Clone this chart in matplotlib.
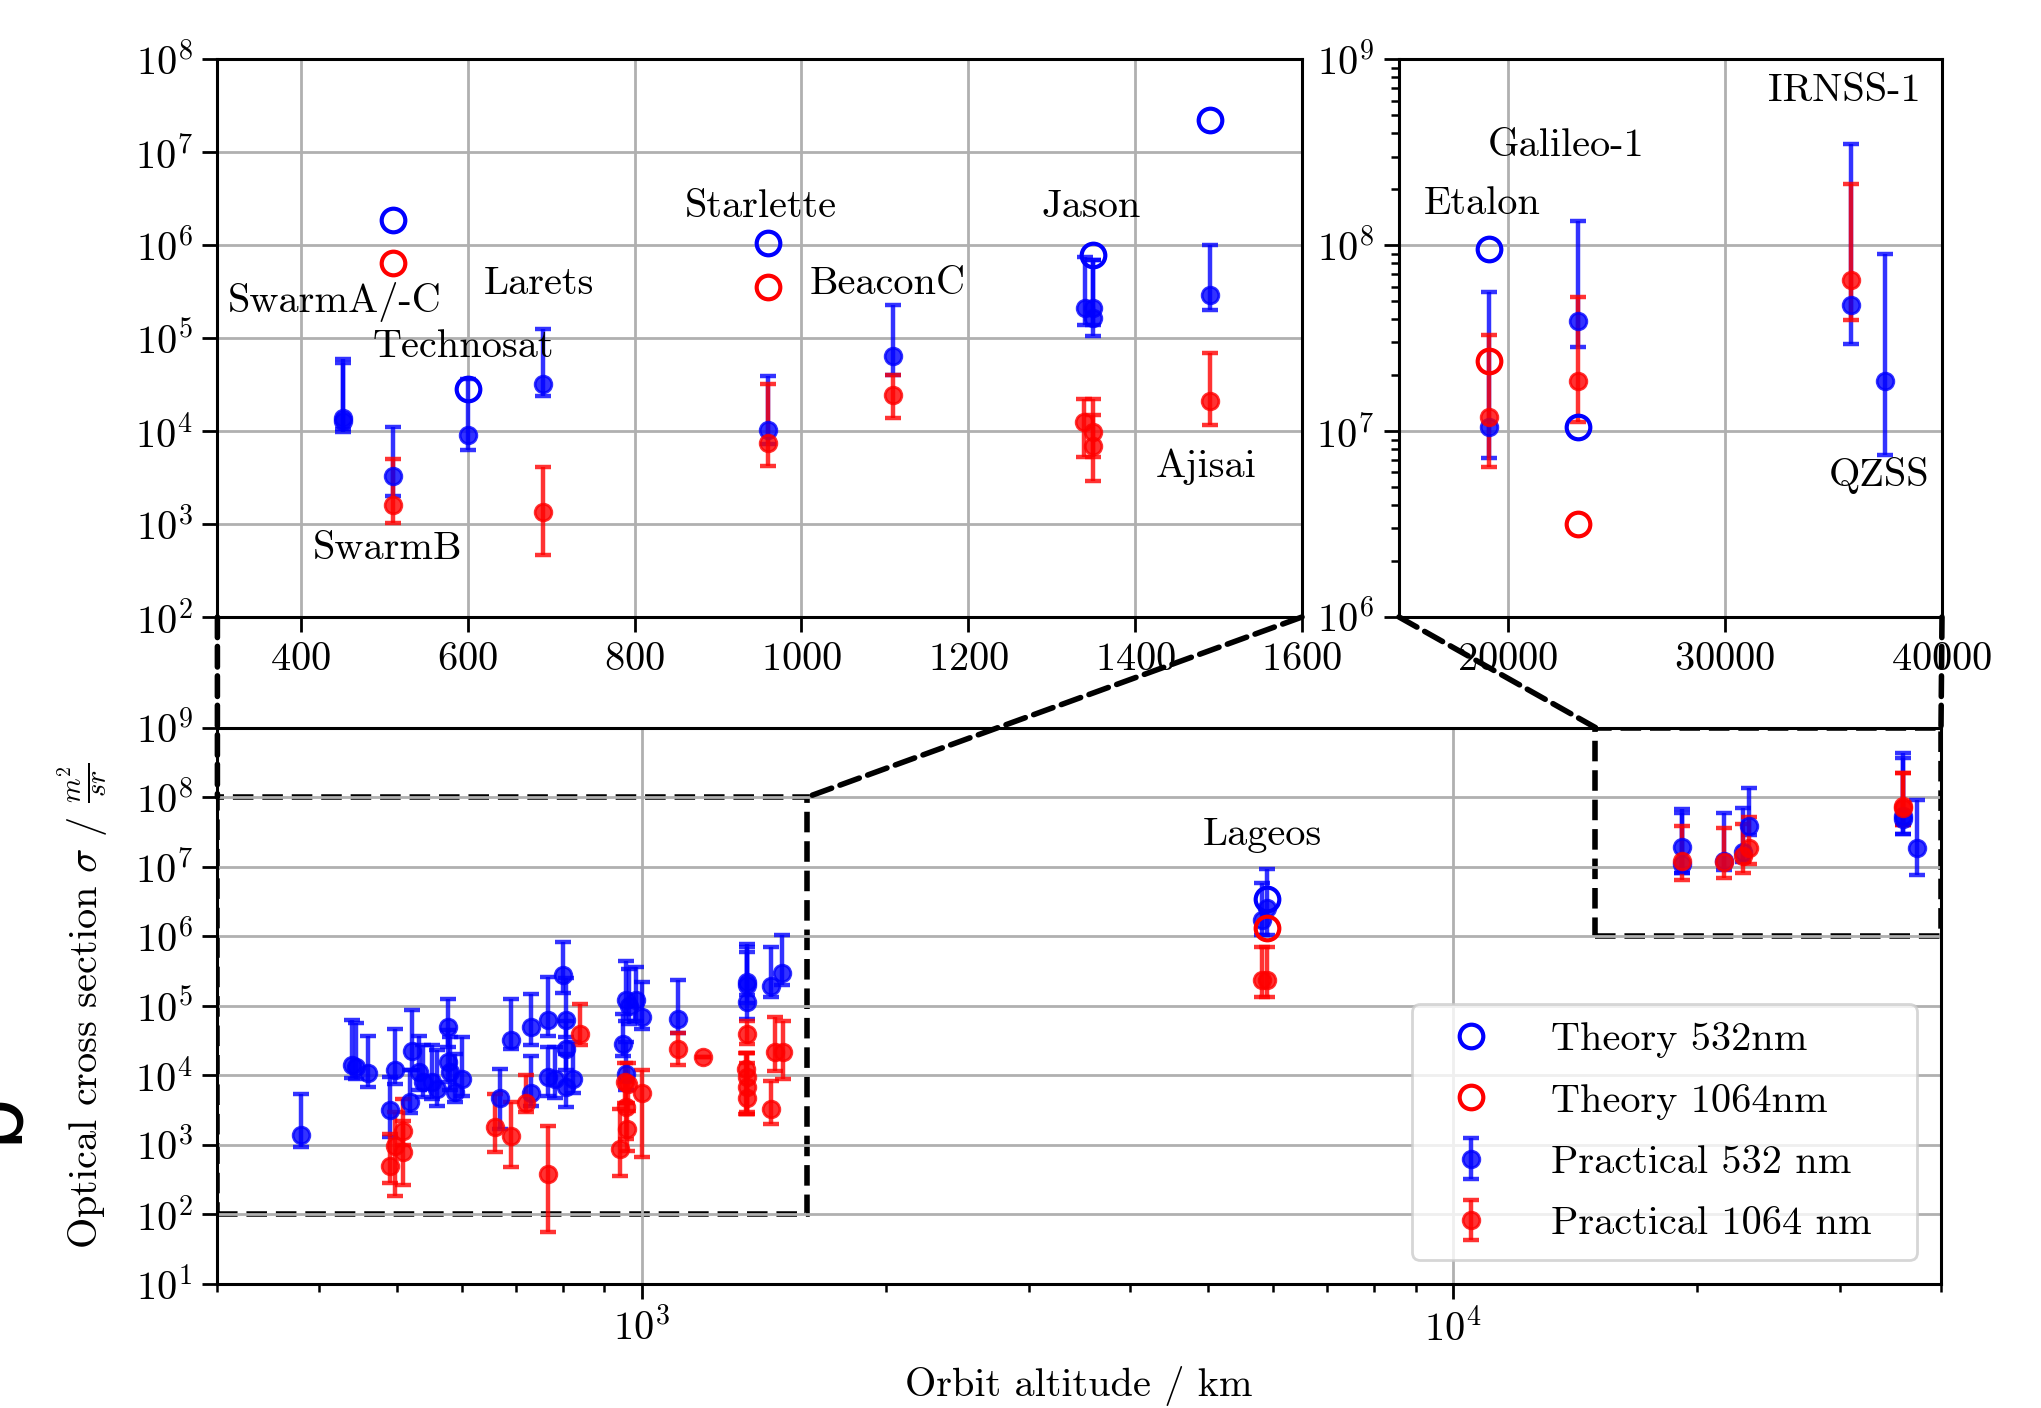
import numpy as np
import matplotlib
matplotlib.use('Agg')
import matplotlib.pyplot as plt
from matplotlib.patches import Rectangle, ConnectionPatch

plt.rcParams['font.family'] = 'serif'
plt.rcParams['font.serif'] = ['cmr10']
plt.rcParams['mathtext.fontset'] = 'cm'
plt.rcParams['axes.formatter.use_mathtext'] = True
plt.rcParams['font.size'] = 14.5

# ---------------- main plot data ----------------
main_p532_alt = [380, 439, 445, 460, 497, 490, 521, 518, 531, 538, 551, 559, 578, 578, 580, 589, 600,
                 669, 690, 730, 730, 767, 767, 801, 808, 808, 782, 808, 824, 958, 965, 985, 1000, 948,
                 958, 1110, 1348, 1350, 1348, 1446, 1488,
                 5900, 5820,
                 19170, 19170, 21616, 22780, 23225, 35890, 35890, 37400]
main_p532_val = [1.38e3, 1.38e4, 1.3e4, 1.07e4, 1.17e4, 3.16e3, 2.2e4, 4.07e3, 1.1e4, 7.9e3, 7.9e3, 6.3e3,
                 4.9e4, 1.54e4, 1.1e4, 5.7e3, 8.9e3, 4.66e3, 3.16e4, 4.9e4, 5.6e3, 6.2e4, 9.3e3, 2.74e5,
                 6.1e4, 2.4e4, 8.9e3, 6.7e3, 8.9e3, 1.19e5, 1.0e5, 1.19e5, 6.9e4, 2.83e4, 1.05e4, 6.5e4,
                 2.19e5, 1.96e5, 1.13e5, 1.9e5, 2.96e5,
                 2.56e6, 1.69e6,
                 1.93e7, 1.1e7, 1.2e7, 1.6e7, 3.85e7, 4.8e7, 5.3e7, 1.87e7]
main_p532_lo = [9.2e2, 9.0e3, 8.7e3, 6.7e3, 7.5e3, 1.28e3, 1.2e4, 2.8e3, 6e3, 4.8e3, 4.5e3, 3.6e3,
                2.5e4, 8e3, 6e3, 4.1e3, 5e3, 1.68e3, 2.35e4, 2.7e4, 3.6e3, 3.7e4, 5e3, 1.5e5,
                3.5e4, 1.2e4, 4.7e3, 3.5e3, 5.5e3, 6e4, 5.5e4, 6e4, 4.6e4, 1.86e4, 6e3, 4e4,
                1.4e5, 1.1e5, 6.5e4, 1.33e5, 1.96e5,
                1.05e6, 1.05e6,
                8.0e6, 8.0e6, 9e6, 1.15e7, 2.85e7, 2.95e7, 2.95e7, 7.6e6]
main_p532_hi = [5.3e3, 6.1e4, 5.6e4, 3.7e4, 4.6e4, 9.3e3, 8.6e4, 1.2e4, 3.6e4, 2.7e4, 2.7e4, 2.3e4,
                1.26e5, 4.5e4, 3.5e4, 2.0e4, 3.55e4, 1.23e4, 1.26e5, 1.49e5, 1.9e4, 2.6e5, 2.5e4, 8.1e5,
                2.5e5, 6e4, 2.5e4, 2e4, 3e4, 4.4e5, 3.4e5, 3.6e5, 2.2e5, 7.6e4, 3e4, 2.3e5,
                7.8e5, 7.0e5, 5.9e5, 7.0e5, 1.03e6,
                9.1e6, 5.8e6,
                6.7e7, 5.9e7, 5.9e7, 6.9e7, 1.34e8, 3.6e8, 4.3e8, 9.1e7]

main_p1064_alt = [490, 497, 508, 508, 660, 690, 720, 767, 839, 954, 962, 958, 960, 940, 1000, 1110, 1191,
                  1348, 1345, 1348, 1350, 1350, 1460, 1495, 1446,
                  5820, 5900,
                  19170, 21616, 22780, 23225, 35890, 35890]
main_p1064_val = [498, 946, 1.59e3, 775, 1.78e3, 1.32e3, 3.9e3, 378, 3.86e4, 7.9e3, 7.5e3, 3.5e3, 1.68e3,
                  866, 5.6e3, 2.4e4, 1.82e4,
                  3.95e4, 1.23e4, 9.3e3, 6.7e3, 4.6e3, 2.15e4, 2.15e4, 3.27e3,
                  2.35e5, 2.35e5,
                  1.2e7, 1.18e7, 1.4e7, 1.87e7, 7.4e7, 6.9e7]
main_p1064_lo = [277, 184, 1.0e3, 260, 776, 471, 2.95e3, 56, 2.7e4, 4e3, 3e3, 1.2e3, 800,
                 349, 656, 1.38e4, 1.82e4,
                 2.8e4, 2.75e3, 2.75e3, 2.9e3, 2.75e3, 1.15e4, 8.9e3, 2e3,
                 1.33e5, 1.33e5,
                 6.4e6, 6.8e6, 8.2e6, 1.1e7, 4e7, 4e7]
main_p1064_hi = [1.43e3, 2.9e3, 4.5e3, 2.2e3, 5.4e3, 4.07e3, 9.9e3, 1.84e3, 1.07e5, 1.5e4, 1.5e4, 8e3, 4e3,
                 3.2e3, 1.17e4, 4e4, 1.82e4,
                 6e4, 2.1e4, 2.1e4, 2.1e4, 1.5e4, 6.9e4, 5.9e4, 8.3e3,
                 6.9e5, 6.9e5,
                 3.8e7, 3.6e7, 4.1e7, 5.2e7, 2.24e8, 2.24e8]

main_t532_alt = [5900]
main_t532_val = [3.37e6]
main_t1064_alt = [5900]
main_t1064_val = [1.31e6]

# ---------------- LEO inset data ----------------
leo_t532_alt = [511, 600, 960, 1350, 1490]
leo_t532_val = [1.89e6, 2.82e4, 1.05e6, 7.9e5, 2.25e7]
leo_t1064_alt = [511, 960]
leo_t1064_val = [6.5e5, 3.55e5]

leo_p532_alt = [450, 450, 511, 600, 690, 960, 1110, 1340, 1350, 1350, 1490]
leo_p532_val = [1.4e4, 1.28e4, 3.27e3, 9.0e3, 3.2e4, 1.04e4, 6.5e4, 2.1e5, 2.1e5, 1.65e5, 2.9e5]
leo_p532_lo = [9.8e3, 1.05e4, 1.98e3, 6.3e3, 2.4e4, 7.2e3, 4.0e4, 1.4e5, 1.4e5, 1.06e5, 2.0e5]
leo_p532_hi = [5.9e4, 5.4e4, 1.1e4, 3.6e4, 1.26e5, 3.9e4, 2.3e5, 7.5e5, 6.9e5, 6.9e5, 1.0e6]

leo_p1064_alt = [511, 690, 960, 1110, 1339, 1350, 1350, 1490]
leo_p1064_val = [1.59e3, 1.35e3, 7.5e3, 2.44e4, 1.26e4, 9.8e3, 7.0e3, 2.1e4]
leo_p1064_lo = [1.02e3, 465, 4.25e3, 1.37e4, 5.3e3, 5.3e3, 2.9e3, 1.16e4]
leo_p1064_hi = [5.0e3, 4.07e3, 3.2e4, 4.0e4, 2.2e4, 2.2e4, 1.5e4, 7.0e4]

leo_names = ['SwarmA/-C', 'Larets', 'Technosat', 'SwarmB', 'Starlette', 'BeaconC', 'Jason', 'Ajisai']
leo_name_x = [313, 619, 486, 414, 860, 1010, 1288, 1425]
leo_name_y = [2.47e5, 3.8e5, 8.0e4, 540, 2.55e6, 3.8e5, 2.55e6, 4.1e3]

# ---------------- GNSS / high orbit inset data ----------------
geo_t532_alt = [19140, 23260]
geo_t532_val = [9.55e7, 1.05e7]
geo_t1064_alt = [19140, 23260]
geo_t1064_val = [2.37e7, 3.15e6]

geo_p532_alt = [19140, 23260, 35790, 37375]
geo_p532_val = [1.05e7, 3.9e7, 4.8e7, 1.87e7]
geo_p532_lo = [7.2e6, 2.84e7, 2.93e7, 7.4e6]
geo_p532_hi = [5.6e7, 1.35e8, 3.52e8, 9.0e7]

geo_p1064_alt = [19140, 23260, 35790]
geo_p1064_val = [1.19e7, 1.85e7, 6.47e7]
geo_p1064_lo = [6.4e6, 1.12e7, 3.96e7]
geo_p1064_hi = [3.3e7, 5.27e7, 2.14e8]

geo_names = ['IRNSS-1', 'Galileo-1', 'Etalon', 'QZSS']
geo_name_x = [31985, 19100, 16140, 34765]
geo_name_y = [6.77e8, 3.4e8, 1.67e8, 5.75e6]

# ---------------- styling helpers ----------------
BLUE = '#0000ff'
RED = '#ff0000'


def yerr(val, lo, hi):
    v = np.asarray(val, float)
    return [v - np.asarray(lo, float), np.asarray(hi, float) - v]


def practical(ax, alt, val, lo, hi, color, label=None):
    return ax.errorbar(alt, val, yerr=yerr(val, lo, hi), fmt='o', color=color, ms=6,
                       elinewidth=1.6, capsize=3, capthick=1.6, alpha=0.8, label=label, zorder=3)


def theory(ax, alt, val, color, label=None):
    return ax.plot(alt, val, 'o', mfc='none', mec=color, ms=8.5, mew=1.5, label=label,
                   zorder=4, linestyle='none')[0]


def style(ax):
    ax.grid(True, which='major', color='#b0b0b0', lw=1.0)
    ax.set_axisbelow(True)
    for s in ax.spines.values():
        s.set_linewidth(1.1)
    ax.tick_params(which='major', direction='out', length=5.5, width=1.0)
    ax.tick_params(which='minor', direction='out', length=3, width=0.9)


W, H = 2041, 1408
fig = plt.figure(figsize=(W / 200, H / 200), dpi=200)

ax = fig.add_axes([217.4 / W, 1 - 1283.5 / H, (1941 - 217.4) / W, (1283.5 - 727.6) / H])
ax1 = fig.add_axes([217.4 / W, 1 - 617 / H, (1302 - 217.4) / W, (617 - 59.4) / H])
ax2 = fig.add_axes([1399 / W, 1 - 617 / H, (1942 - 1399) / W, (617 - 59.4) / H])

# main
ht5 = theory(ax, main_t532_alt, main_t532_val, BLUE, 'Theory 532nm')
ht10 = theory(ax, main_t1064_alt, main_t1064_val, RED, 'Theory 1064nm')
hp5 = practical(ax, main_p532_alt, main_p532_val, main_p532_lo, main_p532_hi, BLUE, 'Practical 532 nm')
hp10 = practical(ax, main_p1064_alt, main_p1064_val, main_p1064_lo, main_p1064_hi, RED, 'Practical 1064 nm')
ax.set_xscale('log')
ax.set_yscale('log')
ax.set_xlim(300, 40000)
ax.set_ylim(1e1, 1e9)
ax.set_yticks([10.0 ** k for k in range(1, 10)])
style(ax)
ax.set_xlabel('Orbit altitude / km', labelpad=6.0)
ax.set_ylabel(r'Optical cross section $\sigma$ / $\frac{m^2}{sr}$', labelpad=9)
ax.text(5830, 2.8e7, 'Lageos', ha='center', va='center')
leg = ax.legend(handles=[ht5, ht10, hp5, hp10], loc='lower left', mode='expand',
                bbox_to_anchor=(0.6933, 0.0423, 0.293, 0.5), borderaxespad=0.0,
                handletextpad=1.0, labelspacing=0.62, framealpha=0.8, borderpad=0.45,
                handlelength=2.0)

# inset rectangles on main (below grid)
ax.add_patch(Rectangle((300, 1e2), 1600 - 300, 1e8 - 1e2, fill=False, ls='--', lw=2.0,
                       ec='black', zorder=0.3))
ax.add_patch(Rectangle((15000, 1e6), 40000 - 15000, 1e9 - 1e6, fill=False, ls='--', lw=2.0,
                       ec='black', zorder=0.3))

# LEO inset
theory(ax1, leo_t532_alt, leo_t532_val, BLUE)
theory(ax1, leo_t1064_alt, leo_t1064_val, RED)
practical(ax1, leo_p532_alt, leo_p532_val, leo_p532_lo, leo_p532_hi, BLUE)
practical(ax1, leo_p1064_alt, leo_p1064_val, leo_p1064_lo, leo_p1064_hi, RED)
ax1.set_yscale('log')
ax1.set_xlim(300, 1600)
ax1.set_ylim(1e2, 1e8)
ax1.set_xticks([400, 600, 800, 1000, 1200, 1400, 1600])
ax1.set_yticks([10.0 ** k for k in range(2, 9)])
style(ax1)
for n, xx, yy in zip(leo_names, leo_name_x, leo_name_y):
    ax1.text(xx, yy, n, ha='left', va='center')

# high orbit inset
theory(ax2, geo_t532_alt, geo_t532_val, BLUE)
theory(ax2, geo_t1064_alt, geo_t1064_val, RED)
practical(ax2, geo_p532_alt, geo_p532_val, geo_p532_lo, geo_p532_hi, BLUE)
practical(ax2, geo_p1064_alt, geo_p1064_val, geo_p1064_lo, geo_p1064_hi, RED)
ax2.set_yscale('log')
ax2.set_xlim(15000, 40000)
ax2.set_ylim(1e6, 1e9)
ax2.set_xticks([20000, 30000, 40000])
ax2.set_yticks([1e6, 1e7, 1e8, 1e9])
style(ax2)
for n, xx, yy in zip(geo_names, geo_name_x, geo_name_y):
    ax2.text(xx, yy, n, ha='left', va='center')

# connector lines
for axi, pa, pb in [(ax1, (300, 1e2), (300, 1e8)), (ax1, (1600, 1e2), (1600, 1e8)),
                    (ax2, (15000, 1e6), (15000, 1e9)), (ax2, (40000, 1e6), (40000, 1e9))]:
    cp = ConnectionPatch(xyA=pa, coordsA=axi.transData, xyB=pb, coordsB=ax.transData,
                         ls='--', lw=2.0, color='black', zorder=5)
    fig.add_artist(cp)

# partially cut panel letter at left edge (cut off in the reference as well)
fig.text(32 / W, 1 - 1117 / H, 'b', rotation=90, ha='right', va='center', fontsize=30,
         family='DejaVu Sans')

fig.savefig('out.png', dpi=200)
